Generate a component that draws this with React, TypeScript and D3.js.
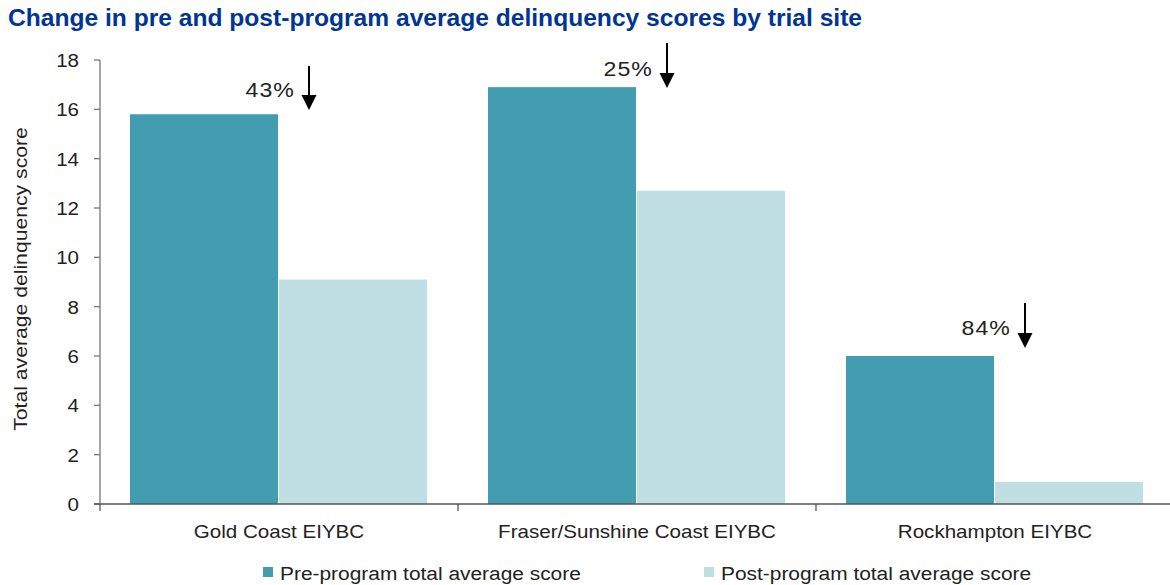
import React from "react";
import * as d3 from "d3";

const categories = ["Gold Coast EIYBC", "Fraser/Sunshine Coast EIYBC", "Rockhampton EIYBC"];
const preValues = [15.8, 16.9, 6.0];
const postValues = [9.1, 12.7, 0.9];
const seriesNames = ["Pre-program total average score", "Post-program total average score"];
const changeLabels = ["43%", "25%", "84%"];
const arrowTop = [17.76, 18.69, 8.15];
const arrowBottom = [15.97, 16.86, 6.32];
const labelY = [16.5, 17.35, 6.85];
const yTicks = [0, 2, 4, 6, 8, 10, 12, 14, 16, 18];

const W = 1170;
const H = 585;
const left = 100;
const right = 1174;
const top = 60;
const bottom = 504;
const PRE = "#419DAF";
const POST = "#BFDFE3";
const FONT = "'Liberation Sans', Arial, Helvetica, sans-serif";
const TXT = "#222";
const AX = "#777";

function T(props: {
  x: number;
  y: number;
  sx?: number;
  size: number;
  anchor?: string;
  rotate?: number;
  spacing?: number;
  dy?: string;
  children: React.ReactNode;
}) {
  const { x, y, sx = 1.1, size, anchor = "start", rotate = 0, spacing = 0, dy, children } = props;
  return (
    <text
      transform={`translate(${x},${y}) rotate(${rotate}) scale(${sx},1)`}
      textAnchor={anchor}
      fontSize={size}
      fill={TXT}
      letterSpacing={spacing}
      dy={dy}
    >
      {children}
    </text>
  );
}

export default function App() {
  const x0 = d3.scaleBand<string>().domain(categories).range([left, right]).paddingInner(0).paddingOuter(0);
  const x1 = d3.scaleBand<string>().domain(["pre", "post"]).range([30, x0.bandwidth() - 30]);
  const y = d3.scaleLinear().domain([0, 18]).range([bottom, top]);
  const series = [
    { key: "pre", values: preValues, color: PRE },
    { key: "post", values: postValues, color: POST },
  ];
  const bandEdges = [...categories.map((c) => x0(c)!), right];

  return (
    <svg width={W} height={H} style={{ position: "absolute", left: 0, top: 0 }} fontFamily={FONT}>
      <rect width={W} height={H} fill="#fff" />
      <text x={8} y={26} fontSize={24.5} fontWeight="bold" fill="#003594" textLength={854} lengthAdjust="spacingAndGlyphs">
        Change in pre and post-program average delinquency scores by trial site
      </text>

      {series.map((s) =>
        categories.map((c, i) => (
          <rect
            key={s.key + c}
            x={x0(c)! + x1(s.key)!}
            y={y(s.values[i])}
            width={x1.bandwidth() - 1}
            height={bottom - y(s.values[i])}
            fill={s.color}
          />
        ))
      )}

      {/* y axis */}
      <line x1={left} x2={left} y1={top} y2={bottom} stroke={AX} strokeWidth={1.3} />
      {yTicks.map((t) => (
        <g key={t}>
          <line x1={left - 6} x2={left} y1={y(t)} y2={y(t)} stroke={AX} strokeWidth={1.3} />
          <T x={left - 21} y={y(t)} size={19} sx={1.08} anchor="end" dy="0.36em">
            {t}
          </T>
        </g>
      ))}
      <T x={27} y={279} size={18.5} sx={1.145} rotate={-90} anchor="middle">
        Total average delinquency score
      </T>

      {/* x axis */}
      <line x1={left - 6} x2={right} y1={bottom} y2={bottom} stroke={"#555"} strokeWidth={1.5} />
      {bandEdges.map((e, i) => (
        <line key={i} x1={e} x2={e} y1={bottom} y2={bottom + 7} stroke={"#555"} strokeWidth={1.3} />
      ))}
      {categories.map((c) => (
        <T key={c} x={x0(c)! + x0.bandwidth() / 2} y={538} size={18.8} sx={1.095} anchor="middle">
          {c}
        </T>
      ))}

      {/* annotations */}
      {categories.map((c, i) => {
        const ax = x0(c)! + x1("pre")! + x1.bandwidth() + 30;
        const yt = y(arrowTop[i]);
        const yb = y(arrowBottom[i]);
        return (
          <g key={"a" + c}>
            <line x1={ax} x2={ax} y1={yt} y2={yb - 14} stroke="#000" strokeWidth={2} />
            <path d={`M${ax - 7.5},${yb - 15} L${ax + 7.5},${yb - 15} L${ax},${yb} Z`} fill="#000" />
            <T x={ax - 14} y={y(labelY[i])} size={21} sx={1.1} spacing={1} anchor="end">
              {changeLabels[i]}
            </T>
          </g>
        );
      })}

      {/* legend */}
      {series.map((s, i) => {
        const lx = i === 0 ? 263 : 704;
        return (
          <g key={"l" + s.key}>
            <rect x={lx} y={567} width={10} height={10} fill={s.color} />
            <T x={lx + 17} y={580} size={19} sx={1.1}>
              {seriesNames[i]}
            </T>
          </g>
        );
      })}
    </svg>
  );
}
